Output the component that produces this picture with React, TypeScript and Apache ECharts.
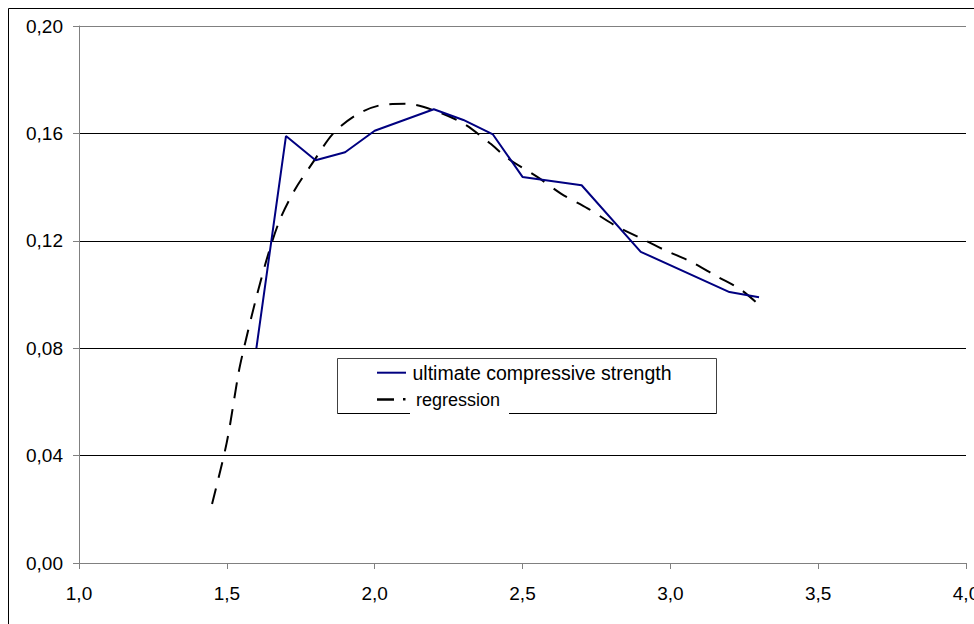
import React, { useEffect, useRef } from "react";
import * as echarts from "echarts";

const strengthX = [1.6, 1.7, 1.8, 1.9, 2.0, 2.2, 2.3, 2.4, 2.5, 2.7, 2.9, 3.2, 3.3];
const strengthY = [0.080, 0.159, 0.150, 0.153, 0.161, 0.169, 0.165, 0.1596, 0.1438, 0.1407, 0.1159, 0.1009, 0.099];

const regressionX = [1.45, 1.5, 1.54, 1.56, 1.6, 1.64, 1.68, 1.73, 1.79, 1.86, 1.94, 2.02, 2.11, 2.2, 2.3, 2.39, 2.45, 2.55, 2.63, 2.72, 2.81, 2.89, 2.98, 3.07, 3.16, 3.24, 3.3];
const regressionY = [0.022, 0.045, 0.071, 0.081, 0.099, 0.115, 0.128, 0.139, 0.149, 0.16, 0.167, 0.1705, 0.171, 0.1686, 0.1637, 0.1563, 0.1507, 0.1438, 0.1376, 0.1321, 0.1259, 0.1215, 0.1166, 0.1122, 0.1066, 0.1017, 0.0961];

const seriesNames = ["ultimate compressive strength", "regression"];

const FONT = "'Liberation Sans', Arial, sans-serif";

export default function App() {
  const ref = useRef<HTMLDivElement>(null);
  useEffect(() => {
    if (!ref.current) return;
    const chart = echarts.init(ref.current, undefined, { renderer: "svg" });
    const comma = (v: number, d: number) => v.toFixed(d).replace(".", ",");
    chart.setOption({
      animation: false,
      backgroundColor: "#ffffff",
      grid: { left: 79, right: 8, top: 26, bottom: 61, containLabel: false, outerBoundsMode: "none" },
      xAxis: {
        type: "value",
        min: 1,
        max: 4,
        interval: 0.5,
        axisLine: { show: true, lineStyle: { color: "#808080", width: 1 } },
        axisTick: { show: true, length: 6, lineStyle: { color: "#808080" } },
        axisLabel: {
          formatter: (v: number) => comma(v, 1),
          color: "#000",
          fontSize: 19,
          fontFamily: FONT,
          margin: 21,
          showMaxLabel: true,
          hideOverlap: false,
        },
        splitLine: { show: false },
      },
      yAxis: {
        type: "value",
        min: 0,
        max: 0.2,
        interval: 0.04,
        axisLine: { show: true, lineStyle: { color: "#808080", width: 1 } },
        axisTick: { show: true, length: 6, lineStyle: { color: "#808080" } },
        axisLabel: {
          formatter: (v: number) => comma(v, 2),
          color: "#000",
          fontSize: 19,
          fontFamily: FONT,
          margin: 16,
        },
        splitLine: {
          show: true,
          lineStyle: { color: ["#808080", "#000", "#000", "#000", "#000", "#808080"], width: 1 },
        },
      },
      series: [
        {
          name: seriesNames[0],
          type: "line",
          data: strengthX.map((x, i) => [x, strengthY[i]]),
          symbol: "none",
          lineStyle: { color: "#000080", width: 2 },
          z: 3,
        },
        {
          name: seriesNames[1],
          type: "line",
          data: regressionX.map((x, i) => [x, regressionY[i]]),
          symbol: "none",
          smooth: 0.3,
          lineStyle: { color: "#000", width: 2, type: [16, 11] },
          z: 2,
        },
      ],
      graphic: [
        {
          type: "rect",
          shape: { x: 8.5, y: 8.5, width: 2000, height: 2000 },
          style: { fill: "none", stroke: "#000", lineWidth: 1 },
          silent: true,
        },
        {
          type: "polyline",
          shape: { points: [[337.5, 413.5], [337.5, 358.5], [716.5, 358.5], [716.5, 413.5]] },
          style: { fill: "none", stroke: "#404040", lineWidth: 1 },
        },
        {
          type: "line",
          shape: { x1: 337.5, y1: 413.5, x2: 410, y2: 413.5 },
          style: { stroke: "#000", lineWidth: 1 },
        },
        {
          type: "line",
          shape: { x1: 509, y1: 413.5, x2: 716.5, y2: 413.5 },
          style: { stroke: "#000", lineWidth: 1 },
        },
        {
          type: "line",
          shape: { x1: 377, y1: 372.7, x2: 406, y2: 372.7 },
          style: { stroke: "#000080", lineWidth: 2 },
        },
        {
          type: "text",
          x: 412.5,
          y: 372.5,
          style: {
            text: seriesNames[0],
            fontSize: 19.5,
            fontFamily: FONT,
            fill: "#000",
            verticalAlign: "middle",
            align: "left",
          },
        },
        {
          type: "line",
          shape: { x1: 377, y1: 399.5, x2: 394, y2: 399.5 },
          style: { stroke: "#000", lineWidth: 2.5 },
        },
        {
          type: "rect",
          shape: { x: 403, y: 398, width: 2.5, height: 2.5 },
          style: { fill: "#000" },
        },
        {
          type: "text",
          x: 416,
          y: 400,
          style: {
            text: seriesNames[1],
            fontSize: 18,
            fontFamily: FONT,
            fill: "#000",
            verticalAlign: "middle",
            align: "left",
          },
        },
      ],
    });
    return () => chart.dispose();
  }, []);
  return (
    <div
      ref={ref}
      style={{ position: "fixed", left: 0, top: 0, width: 974, height: 624 }}
    />
  );
}
